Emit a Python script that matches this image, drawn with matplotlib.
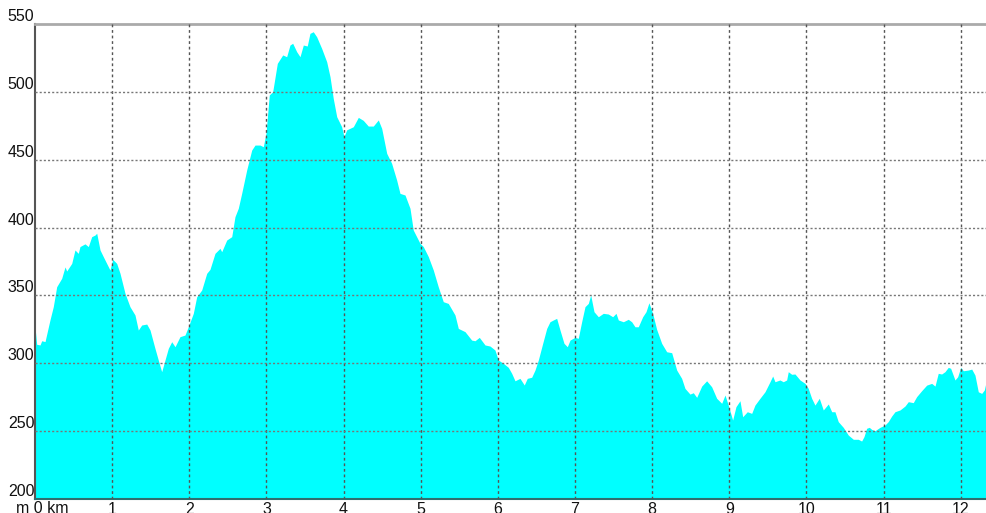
import numpy as np
import matplotlib
matplotlib.use("Agg")
import matplotlib.pyplot as plt

# profile: distance (km), elevation (m)
dist = [0.000, 0.022, 0.065, 0.087, 0.130, 0.194, 0.237, 0.281, 0.346, 0.389,
        0.411, 0.476, 0.518, 0.561, 0.583, 0.648, 0.691, 0.735, 0.778, 0.800,
        0.843, 0.885, 0.950, 0.972, 1.007, 1.059, 1.102, 1.167, 1.231, 1.296,
        1.339, 1.383, 1.448, 1.491, 1.555, 1.598, 1.642, 1.685, 1.728, 1.772,
        1.815, 1.879, 1.944, 1.987, 2.052, 2.096, 2.161, 2.226, 2.268, 2.333,
        2.398, 2.420, 2.485, 2.550, 2.592, 2.635, 2.679, 2.744, 2.809, 2.852,
        2.916, 2.959, 2.994, 3.037, 3.081, 3.141, 3.211, 3.262, 3.305, 3.340,
        3.392, 3.435, 3.478, 3.529, 3.564, 3.607, 3.651, 3.716, 3.781, 3.824,
        3.866, 3.911, 3.975, 4.005, 4.040, 4.126, 4.191, 4.255, 4.320, 4.385,
        4.450, 4.494, 4.559, 4.623, 4.688, 4.731, 4.796, 4.861, 4.903, 4.990,
        5.033, 5.098, 5.163, 5.227, 5.292, 5.357, 5.444, 5.487, 5.574, 5.660,
        5.703, 5.759, 5.833, 5.898, 5.962, 6.005, 6.070, 6.135, 6.179, 6.222,
        6.286, 6.342, 6.381, 6.438, 6.481, 6.524, 6.581, 6.633, 6.675, 6.718,
        6.762, 6.805, 6.857, 6.900, 6.935, 6.999, 7.042, 7.086, 7.129, 7.172,
        7.203, 7.246, 7.302, 7.366, 7.431, 7.488, 7.531, 7.561, 7.626, 7.690,
        7.734, 7.777, 7.820, 7.877, 7.920, 7.958, 8.006, 8.058, 8.123, 8.188,
        8.253, 8.318, 8.382, 8.425, 8.490, 8.533, 8.577, 8.642, 8.706, 8.771,
        8.836, 8.901, 8.944, 8.986, 9.043, 9.086, 9.138, 9.173, 9.233, 9.290,
        9.332, 9.397, 9.462, 9.527, 9.562, 9.592, 9.656, 9.699, 9.743, 9.764,
        9.808, 9.851, 9.916, 9.981, 10.023, 10.067, 10.110, 10.166, 10.218, 10.283,
        10.327, 10.369, 10.412, 10.477, 10.542, 10.607, 10.671, 10.715, 10.745, 10.780,
        10.814, 10.845, 10.888, 10.953, 11.017, 11.060, 11.104, 11.147, 11.212, 11.277,
        11.320, 11.384, 11.428, 11.493, 11.558, 11.623, 11.666, 11.708, 11.752, 11.795,
        11.838, 11.869, 11.925, 11.960, 11.999, 12.033, 12.097, 12.142, 12.184, 12.227,
        12.271, 12.305, 12.336]

elev = [326.7, 314.0, 313.5, 316.6, 316.0, 331.9, 341.7, 356.4, 362.6, 371.0,
        368.0, 373.6, 383.5, 381.0, 386.0, 388.0, 386.0, 393.3, 394.5, 395.8,
        383.5, 378.6, 371.2, 368.7, 376.6, 373.6, 366.3, 351.5, 341.7, 335.6,
        324.5, 328.2, 328.9, 324.5, 311.0, 302.4, 293.8, 302.4, 311.0, 315.9,
        312.2, 319.6, 320.8, 326.9, 336.8, 349.0, 354.0, 366.3, 369.2, 381.0,
        384.7, 382.2, 390.8, 393.3, 408.0, 414.2, 425.2, 442.4, 457.1, 460.8,
        460.8, 459.6, 469.4, 497.7, 500.1, 521.0, 527.2, 525.9, 534.5, 535.8,
        529.6, 525.9, 534.5, 533.8, 543.1, 544.3, 540.6, 532.0, 522.2, 511.2,
        495.2, 481.7, 474.3, 467.0, 472.0, 474.3, 481.2, 479.0, 474.8, 474.8,
        479.3, 473.1, 454.7, 447.3, 435.0, 425.2, 424.0, 414.2, 398.2, 388.4,
        386.0, 378.6, 368.7, 356.4, 345.4, 344.1, 335.6, 325.7, 323.3, 317.1,
        316.6, 319.1, 313.5, 312.7, 309.8, 302.4, 300.0, 297.0, 292.6, 287.1,
        288.9, 284.0, 288.9, 289.7, 295.0, 302.4, 314.7, 325.7, 330.6, 331.9,
        333.1, 324.5, 314.7, 312.2, 317.1, 319.1, 318.4, 330.6, 341.7, 344.1,
        350.3, 338.0, 334.3, 336.8, 336.3, 334.3, 336.8, 331.9, 330.6, 332.4,
        330.6, 326.9, 326.9, 334.3, 338.0, 344.6, 336.8, 325.0, 314.7, 308.5,
        307.8, 295.0, 288.9, 281.5, 277.3, 278.3, 274.9, 283.2, 287.1, 282.7,
        274.2, 270.5, 276.6, 269.2, 258.2, 268.0, 272.4, 260.6, 264.3, 263.1,
        269.2, 274.2, 279.0, 286.4, 290.6, 286.4, 287.7, 286.4, 287.7, 293.8,
        291.9, 292.1, 287.7, 285.2, 281.5, 274.2, 269.2, 274.2, 265.6, 270.0,
        264.3, 264.3, 257.0, 252.8, 247.1, 244.0, 244.0, 242.7, 245.9, 252.1,
        252.8, 251.3, 250.3, 252.8, 254.5, 257.0, 261.1, 264.3, 265.6, 268.5,
        271.7, 271.0, 275.4, 279.8, 283.9, 285.2, 283.2, 292.6, 292.1, 293.8,
        297.0, 296.3, 287.7, 290.1, 297.0, 294.5, 295.0, 295.7, 291.3, 279.0,
        277.8, 280.3, 288.2]

xticks = list(range(0, 13))
xlabels = [""] + [str(k) for k in range(1, 13)]
yticks = [200, 250, 300, 350, 400, 450, 500, 550]

plt.rcParams['font.family'] = ['Liberation Sans', 'DejaVu Sans']

fig = plt.figure(figsize=(9.87, 5.13), dpi=100)
ax = fig.add_axes([35/987, 14/513, 952/987, 475/513])

ax.fill_between(dist, elev, 200, color='#00ffff', linewidth=0, zorder=1)

ax.set_xlim(0, 12.34)
ax.set_ylim(200, 550)
ax.set_xticks(xticks)
ax.set_xticklabels(xlabels)
ax.set_yticks(yticks)
ax.set_yticklabels([str(v) for v in yticks])
ax.tick_params(axis='both', length=0, labelsize=11.5, colors='#111111')
ax.tick_params(axis='x', pad=2)
ax.tick_params(axis='y', pad=0.5)
for lab in ax.get_yticklabels():
    lab.set_verticalalignment('bottom')

# grid drawn over the fill
for k in xticks[1:]:
    ax.axvline(k, color='#555555', lw=1, ls=(0, (2, 2)), zorder=3)
for v in yticks[1:-1]:
    ax.axhline(v, color='#777777', lw=1, ls=(0, (1.5, 1.5)), zorder=3)

ax.spines['right'].set_visible(False)
ax.spines['top'].set_color('#aaaaaa')
ax.spines['top'].set_linewidth(2)
ax.spines['left'].set_color('#555555')
ax.spines['left'].set_linewidth(1.5)
ax.spines['bottom'].set_color('#2f6f6f')
ax.spines['bottom'].set_linewidth(1.5)

ax.annotate("m 0 km", xy=(0, 0), xycoords='axes fraction',
            xytext=(5, -1.5), textcoords='offset points',
            ha='center', va='top', fontsize=11.5, color='#111111')

fig.savefig("out.png", dpi=100)
